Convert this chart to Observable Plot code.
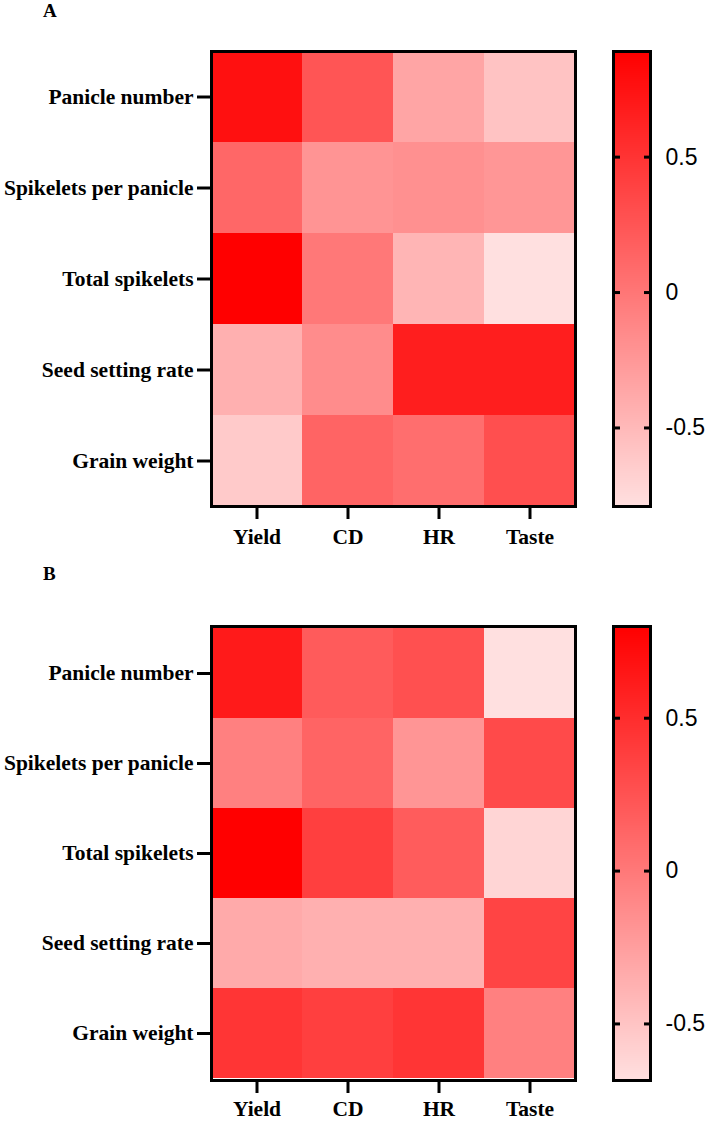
<!DOCTYPE html>
<html><head><meta charset="utf-8">
<script src="https://cdn.jsdelivr.net/npm/d3@7"></script>
<script src="https://cdn.jsdelivr.net/npm/@observablehq/plot@0.6"></script>
<style>
body{margin:0;background:#fff;width:708px;height:1121px;position:relative;overflow:hidden}
.box{position:absolute}
.letter{position:absolute;font:bold 19px "Liberation Serif","Times New Roman",serif;line-height:19px;color:#000}
</style></head><body>
<script>
const rows = ["Panicle number", "Spikelets per panicle", "Total spikelets", "Seed setting rate", "Grain weight"];
const cols = ["Yield", "CD", "HR", "Taste"];
const valuesA = [
  [0.77, 0.25, -0.35, -0.57],
  [0.12, -0.22, -0.19, -0.235],
  [0.89, -0.01, -0.47, -0.79],
  [-0.43, -0.16, 0.665, 0.665],
  [-0.625, 0.14, 0.065, 0.30]
];
const valuesB = [
  [0.63, 0.20, 0.27, -0.685],
  [-0.05, 0.14, -0.19, 0.31],
  [0.80, 0.38, 0.19, -0.61],
  [-0.33, -0.37, -0.37, 0.35],
  [0.45, 0.38, 0.45, -0.05]
];
const legendTicks = [-0.5, 0, 0.5];
const lowColor = "#ffe0e0", highColor = "#ff0000";

function toTable(values) {
  return rows.flatMap((r, i) => cols.map((c, j) => ({row: r, col: c, value: values[i][j]})));
}

function addBox(node, left, top, w) {
  const d = document.createElement("div");
  d.className = "box";
  d.style.left = left + "px"; d.style.top = top + "px"; d.style.width = w + "px";
  d.appendChild(node);
  document.body.appendChild(d);
}
function addLetter(t, left, top) {
  const d = document.createElement("div");
  d.className = "letter"; d.textContent = t;
  d.style.left = left + "px"; d.style.top = top + "px";
  document.body.appendChild(d);
}

function panel(letter, values, top, height, mt, mb, letterTop, xPad) {
  const data = toTable(values);
  const ext = d3.extent(data, d => d.value);
  const color = {type: "linear", domain: ext, range: [lowColor, highColor], interpolate: "rgb"};
  const heat = Plot.plot({
    width: 600, height, marginTop: mt, marginBottom: mb, marginLeft: 211, marginRight: 25,
    x: {domain: cols, padding: 0, label: null, axis: null},
    y: {domain: rows, padding: 0, label: null, axis: null},
    color,
    style: {fontFamily: '"Liberation Serif","Times New Roman",serif', fontSize: "21.5px", fontWeight: "bold", color: "black", background: "transparent"},
    marks: [
      Plot.cell(data, {x: "col", y: "row", fill: "value", inset: 0, shapeRendering: "crispEdges"}),
      Plot.axisX({tickSize: 13, tickPadding: xPad, strokeWidth: 3, stroke: "black", fill: "black", label: null}),
      Plot.axisY({tickSize: 14, tickPadding: 4, strokeWidth: 3, stroke: "black", fill: "black", label: null}),
      Plot.frame({stroke: "black", strokeWidth: 3})
    ]
  });
  addBox(heat, 0, top, 600);
  const bar = Plot.plot({
    width: 108, height, marginTop: mt, marginBottom: mb, marginLeft: 13, marginRight: 58,
    x: {domain: [0, 1], axis: null},
    y: {domain: ext, label: null, axis: null},
    color,
    style: {fontFamily: '"Liberation Sans",Arial,sans-serif', fontSize: "23px", fontWeight: "normal", color: "black", background: "transparent"},
    marks: [
      Plot.raster({x1: 0, x2: 1, y1: ext[0], y2: ext[1], fill: (x, y) => y, width: 1, height: 455}),
      Plot.frame({stroke: "black", strokeWidth: 3}),
      Plot.axisY(legendTicks, {anchor: "left", tickSize: -7, tickFormat: () => "", strokeWidth: 3, stroke: "black", label: null}),
      Plot.axisY(legendTicks, {anchor: "right", tickSize: -7, tickPadding: 22, strokeWidth: 3, stroke: "black", fill: "black", tickFormat: d => String(d), label: null})
    ]
  });
  addBox(bar, 600, top, 108);
  addLetter(letter, 43, letterTop);
}

panel("A", valuesA, 0, 560, 51, 54, 1, 9);
panel("B", valuesB, 558, 563, 68, 41, 564, 7);
</script>
</body></html>
